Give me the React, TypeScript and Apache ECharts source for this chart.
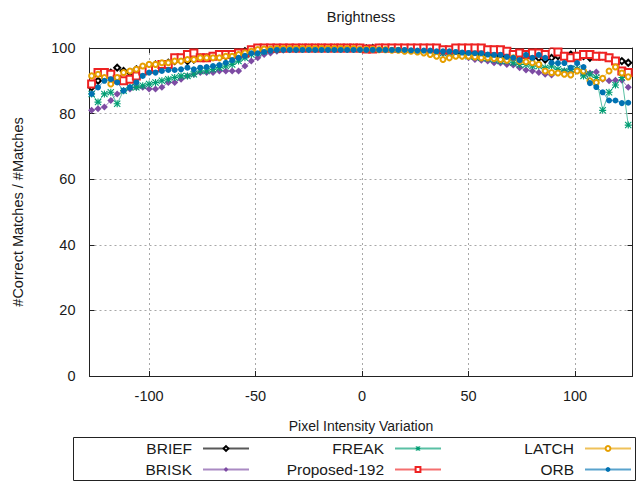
import React, { useEffect, useRef } from "react";
import * as echarts from "echarts";

const xValues = [
  -127, -124, -121, -118, -115, -112, -109, -106, -103, -100,
  -97, -94, -91, -88, -85, -82, -79, -76, -73, -70,
  -67, -64, -61, -58, -55, -52, -49, -46, -43, -40,
  -37, -34, -31, -28, -25, -22, -19, -16, -13, -10,
  -7, -4, -1, 2, 5, 8, 11, 14, 17, 20,
  23, 26, 29, 32, 35, 38, 41, 44, 47, 50,
  53, 56, 59, 62, 65, 68, 71, 74, 77, 80,
  83, 86, 89, 92, 95, 98, 101, 104, 107, 110,
  113, 116, 119, 122, 125,
];

const brief = [
  88, 90, 91.5, 92.5, 94, 93, 92.5, 93.5, 94, 94.5,
  95, 94.5, 95.5, 96, 96.5, 96, 96.5, 97, 97, 97.5,
  97.5, 97.5, 98, 98.5, 99, 99.3, 99.5, 99.7, 99.8, 99.8,
  99.8, 99.9, 99.9, 100, 100, 100, 100, 99.9, 100, 100,
  100, 100, 100, 99.9, 100, 100, 99.9, 99.9, 99.8, 99.8,
  99.7, 99.6, 99.5, 99.5, 99.3, 99, 99, 98.8, 98.5, 98.5,
  98.5, 98, 98, 97.8, 97.5, 97.5, 97, 97, 97.5, 97,
  97, 96.5, 97, 97.5, 97.5, 98, 97.5, 97.5, 97, 97.5,
  97.5, 97, 96, 96, 95.5,
];

const brisk = [
  81, 81.5, 82, 84, 86, 87, 87.5, 88, 88, 87.5,
  87.5, 88, 89.5, 89.5, 90.5, 91.5, 92, 92.5, 92.5, 92.5,
  93, 93, 93, 93, 94.5, 96, 97, 98, 98.5, 99,
  99.3, 99.5, 99.5, 99.7, 99.8, 99.8, 99.8, 99.8, 99.8, 99.8,
  99.8, 99.8, 99.8, 99.8, 99.8, 99.8, 99.7, 99.7, 99.5, 99.5,
  99.3, 99.2, 99, 98.8, 98.5, 98.3, 98, 97.8, 97.5, 97,
  96.5, 96.3, 96, 95.5, 95.4, 95, 94.8, 94, 93.3, 93,
  92.5, 92, 91.8, 92.5, 93, 92.5, 93.5, 92, 92.4, 92.7,
  90.5, 90, 90.2, 90.2, 88,
];

const freak = [
  86, 83.5, 86, 86.5, 83, 87, 88, 88, 88.5, 89,
  89.5, 90, 90.5, 91, 91.5, 91.5, 92, 93, 93, 93.5,
  94, 94.5, 95, 96, 97, 98, 98.5, 99, 99.5, 99.5,
  99.7, 99.8, 99.8, 99.8, 99.9, 99.9, 99.9, 99.9, 99.9, 99.9,
  99.9, 99.9, 99.9, 99.9, 99.9, 99.8, 99.8, 99.7, 99.7, 99.6,
  99.5, 99.4, 99.2, 99, 98.8, 98.5, 98.3, 98, 98, 97.5,
  97.3, 97, 96.8, 96.5, 96, 96, 95.5, 95, 95, 94.5,
  94.5, 94, 94.5, 93.5, 93, 93.5, 93.5, 91.5, 92, 91,
  81, 86.5, 88.7, 91, 76.5,
];

const proposed = [
  89, 92.5, 92.5, 92, 90.5, 90, 90.5, 91.5, 93, 93.5,
  94, 95, 95, 97, 97, 98, 98.5, 97, 97, 97.5,
  98, 98, 98, 98.5, 98.5, 99.5, 100, 100, 100, 100,
  100, 100, 100, 100, 100, 100, 100, 100, 100, 100,
  100, 100, 100, 99.7, 99.7, 100, 100, 100, 100, 100,
  100, 100, 100, 100, 100, 99.5, 99.5, 100, 100, 100,
  100, 100, 99.5, 99.5, 99.5, 99, 98, 98.5, 98, 98.5,
  98.5, 98, 100.3, 98.8, 97.5, 97, 97.5, 98, 98, 97.5,
  97.5, 97, 96, 93, 92.5,
];

const latch = [
  91.5, 92, 91, 89, 91, 92.5, 93, 93.5, 94.5, 95,
  95, 95.5, 95.5, 96, 96, 96.5, 96.5, 97, 97, 97,
  97, 97.5, 97.5, 98, 98.5, 99, 99.5, 99.7, 99.7, 99.8,
  99.8, 99.8, 99.8, 99.8, 99.8, 99.8, 99.8, 99.8, 99.8, 99.8,
  99.8, 99.8, 99.6, 99.6, 99.6, 99.5, 99.5, 99.3, 99.3, 99,
  99, 98.8, 98.5, 98, 97.5, 96.5, 97, 97.5, 97.5, 97.5,
  97.3, 97, 97, 96.8, 96.5, 96.3, 97, 96, 95.8, 95.5,
  95, 93, 92.5, 92.4, 92, 91.8, 93, 93, 90, 89.5,
  90.8, 93, 94.2, 92.4, 91.2,
];

const orb = [
  86, 88, 90, 90.5, 89.5, 87, 88, 89.5, 91.5, 92.5,
  92.5, 93, 93.3, 93.3, 93.5, 94, 93.5, 94, 94.2, 94.5,
  94.8, 95.5, 96.3, 97, 97.6, 98.4, 98.4, 98.8, 99.2, 99.4,
  99.4, 99.4, 99.4, 99.4, 99.4, 99.4, 99.4, 99.4, 99.4, 99.4,
  99.4, 99.4, 99.4, 99.4, 99.4, 99.4, 99.4, 99.4, 99.4, 99.4,
  99.3, 99.2, 99.2, 99.2, 99, 99, 99, 98.8, 98.6, 98.5,
  98.4, 98.4, 98, 97.9, 97.9, 97.3, 97, 96.3, 97.9, 97,
  97.9, 97, 95.5, 95.4, 95.4, 94, 95.4, 94.2, 89.3, 88.1,
  86.5, 84, 84, 83.2, 83.3,
];

const seriesNames = ["BRIEF", "BRISK", "FREAK", "Proposed-192", "LATCH", "ORB"];
const xTitle = "Pixel Intensity Variation";
const yTitle = "#Correct Matches / #Matches";
const chartTitle = "Brightness";

const FONT = "Liberation Sans, Arial, sans-serif";
const TXT = "#1a1a1a";
const ASTERISK =
  "path://M0 4.2H10V5.8H0Z M4.2 0H5.8V10H4.2Z M0 1.1L1.1 0L10 8.9L8.9 10Z M8.9 0L10 1.1L1.1 10L0 8.9Z";

export default function App() {
  const ref = useRef<HTMLDivElement>(null);

  useEffect(() => {
    if (!ref.current) return;
    const chart = echarts.init(ref.current, undefined, { renderer: "svg" });
    const pairs = (ys: number[]) => xValues.map((x, i) => [x, ys[i]]);

    const styles = [
      { data: brief, color: "#000000", symbol: "emptyDiamond", size: 6, width: 1, bw: 0.8 },
      { data: brisk, color: "#7d4ba3", symbol: "diamond", size: 7, width: 1, bw: 0 },
      { data: freak, color: "#009e73", symbol: ASTERISK, size: 7, width: 1, bw: 0 },
      { data: proposed, color: "#ee2222", symbol: "emptyRect", size: 7, width: 1.8, bw: 1.4 },
      { data: latch, color: "#e69f00", symbol: "emptyCircle", size: 5, width: 1, bw: 1 },
      { data: orb, color: "#0072b2", symbol: "circle", size: 6, width: 1, bw: 0 },
    ];

    const series = styles.map((s, i) => ({
      name: seriesNames[i],
      type: "line",
      data: pairs(s.data),
      symbol: s.symbol,
      symbolSize: s.size,
      showSymbol: true,
      showAllSymbol: true,
      color: s.color,
      itemStyle: { color: s.color, borderColor: s.color, borderWidth: s.bw, opacity: 1 },
      lineStyle: { color: s.color, width: s.width, opacity: 0.65 },
      emphasis: { disabled: true },
      z: 2 + i,
    }));

    // legend layout: [right edge of line sample, row centre y]
    const legendPos: [number, number][] = [
      [250, 448],
      [250, 469],
      [442, 448],
      [442, 469],
      [632, 448],
      [632, 469],
    ];
    const legendOrder = ["BRIEF", "BRISK", "FREAK", "Proposed-192", "LATCH", "ORB"];
    const legends = legendOrder.map((name, i) => ({
      data: [name],
      align: "right",
      orient: "horizontal",
      right: 644 - legendPos[i][0],
      top: legendPos[i][1] - 7.5,
      itemWidth: 46,
      itemHeight: 6,
      padding: 0,
      selectedMode: false,
      textStyle: { fontFamily: FONT, fontSize: 15.5, color: TXT, padding: [0, 6, 0, 0] },
    }));

    const gridLine = { show: true, lineStyle: { color: "#a8a8a8", type: [2, 3], width: 1 } };
    const axisLine = { show: true, onZero: false, lineStyle: { color: "#222", width: 1 } };
    const tick = { show: true, inside: true, length: 5, lineStyle: { color: "#222" } };

    chart.setOption({
      animation: false,
      backgroundColor: "#ffffff",
      grid: { left: 89.5, right: 11.5, top: 48, bottom: 105, containLabel: false },
      legend: legends,
      xAxis: [
        {
          type: "value",
          min: -128,
          max: 127,
          minInterval: 50,
          maxInterval: 50,
          position: "bottom",
          name: xTitle,
          nameLocation: "middle",
          nameGap: 43,
          nameTextStyle: { fontFamily: FONT, fontSize: 14, color: TXT },
          axisLine,
          axisTick: tick,
          splitLine: gridLine,
          axisLabel: {
            fontFamily: FONT,
            fontSize: 14.5,
            color: TXT,
            margin: 12,
            showMinLabel: false,
            showMaxLabel: false,
          },
        },
        {
          type: "value",
          min: -128,
          max: 127,
          minInterval: 50,
          maxInterval: 50,
          position: "top",
          axisLine,
          axisTick: tick,
          splitLine: { show: false },
          axisLabel: { show: false },
        },
      ],
      yAxis: [
        {
          type: "value",
          min: 0,
          max: 100,
          interval: 20,
          position: "left",
          name: yTitle,
          nameLocation: "middle",
          nameGap: 64,
          nameTextStyle: { fontFamily: FONT, fontSize: 14.5, color: TXT },
          axisLine,
          axisTick: tick,
          splitLine: gridLine,
          axisLabel: { fontFamily: FONT, fontSize: 14.5, color: TXT, margin: 14 },
        },
        {
          type: "value",
          min: 0,
          max: 100,
          interval: 20,
          position: "right",
          axisLine,
          axisTick: tick,
          splitLine: { show: false },
          axisLabel: { show: false },
        },
      ],
      graphic: [
        {
          type: "text",
          x: 361,
          y: 17,
          style: {
            text: chartTitle,
            fontFamily: FONT,
            fontSize: 14.5,
            fill: TXT,
            textAlign: "center",
            textVerticalAlign: "middle",
          },
        },
        {
          type: "rect",
          shape: { x: 73.5, y: 437.5, width: 562, height: 43 },
          style: { fill: "none", stroke: "#222", lineWidth: 1 },
        },
      ],
      series,
    });

    return () => chart.dispose();
  }, []);

  return (
    <div
      ref={ref}
      style={{ position: "fixed", left: 0, top: 0, width: 644, height: 481 }}
    />
  );
}
